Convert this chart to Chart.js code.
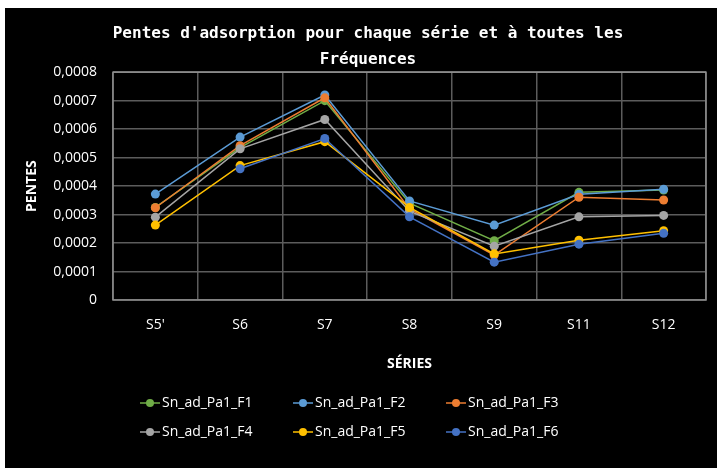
<!DOCTYPE html>
<html>
<head>
<meta charset="utf-8">
<script src="https://cdn.jsdelivr.net/npm/chart.js@4.4.1/dist/chart.umd.min.js"></script>
<style>
  body { margin: 0; background: #fff; }
  canvas { display: block; }
</style>
</head>
<body>
<canvas id="pentes" width="717" height="468"></canvas>
<script>
const series = ["S5'", 'S6', 'S7', 'S8', 'S9', 'S11', 'S12'];
const yTicks = [0, 0.0001, 0.0002, 0.0003, 0.0004, 0.0005, 0.0006, 0.0007, 0.0008];

const F1 = [0.000325, 0.000535, 0.000700, 0.000340, 0.000208, 0.000378, 0.000386];
const F2 = [0.000372, 0.000572, 0.000720, 0.000348, 0.000263, 0.000371, 0.000389];
const F3 = [0.000324, 0.000542, 0.000710, 0.000320, 0.000158, 0.000361, 0.000351];
const F4 = [0.000291, 0.000531, 0.000634, 0.000312, 0.000189, 0.000292, 0.000297];
const F5 = [0.000263, 0.000472, 0.000556, 0.000325, 0.000162, 0.000210, 0.000243];
const F6 = [null, 0.000461, 0.000567, 0.000292, 0.000133, 0.000196, 0.000234];

const names = ['Sn_ad_Pa1_F1', 'Sn_ad_Pa1_F2', 'Sn_ad_Pa1_F3', 'Sn_ad_Pa1_F4', 'Sn_ad_Pa1_F5', 'Sn_ad_Pa1_F6'];
const colors = ['#70AD47', '#5B9BD5', '#ED7D31', '#A5A5A5', '#FFC000', '#4472C4'];
const values = [F1, F2, F3, F4, F5, F6];

const fmt = v => v === 0 ? '0' : v.toFixed(4).replace('.', ',');

// black panel + plot frame
const frame = {
  id: 'frame',
  beforeDraw(chart) {
    const c = chart.ctx;
    c.save();
    c.fillStyle = '#fff';
    c.fillRect(0, 0, chart.width, chart.height);
    c.fillStyle = '#000';
    c.fillRect(5, 8, chart.width - 5, chart.height - 8);
    c.restore();
  },
  beforeDatasetsDraw(chart) {
    const a = chart.chartArea, c = chart.ctx;
    c.save();
    c.strokeStyle = '#8f8f8f';
    c.lineWidth = 1.5;
    c.strokeRect(a.left, a.top, a.right - a.left, a.bottom - a.top);
    c.restore();
  }
};

// legend: line with marker, 3 columns x 2 rows
const lineLegend = {
  id: 'lineLegend',
  afterDraw(chart) {
    const c = chart.ctx;
    c.save();
    c.font = '14px "Open Sans"';
    c.textBaseline = 'middle';
    chart.data.datasets.forEach((ds, i) => {
      const x = 140 + (i % 3) * 153;
      const y = 403 + Math.floor(i / 3) * 29;
      c.strokeStyle = ds.borderColor;
      c.lineWidth = 1.5;
      c.beginPath();
      c.moveTo(x, y);
      c.lineTo(x + 20, y);
      c.stroke();
      c.fillStyle = ds.borderColor;
      c.beginPath();
      c.arc(x + 10, y, 4, 0, Math.PI * 2);
      c.fill();
      c.fillStyle = '#fff';
      c.fillText(ds.label, x + 22, y);
    });
    c.restore();
  }
};

new Chart(document.getElementById('pentes'), {
  type: 'line',
  data: {
    labels: series,
    datasets: values.map((v, i) => ({
      label: names[i],
      data: v,
      borderColor: colors[i],
      backgroundColor: colors[i],
      borderWidth: 1.5,
      pointRadius: 4.5,
      pointBorderWidth: 0,
      tension: 0,
      order: 5 - i
    }))
  },
  options: {
    responsive: false,
    devicePixelRatio: 1,
    animation: false,
    layout: { padding: { top: 8, left: 30, right: 11, bottom: 0 } },
    plugins: {
      legend: { display: false },
      tooltip: { enabled: false },
      title: {
        display: true,
        text: ["Pentes d'adsorption pour chaque série et à toutes les", 'Fréquences'],
        color: '#fff',
        font: { family: '"DejaVu Sans Mono"', size: 16, weight: 'bold', lineHeight: 1.6 },
        padding: { top: 13, bottom: 0 }
      }
    },
    scales: {
      x: {
        offset: true,
        grid: { color: '#5c5c5c', lineWidth: 1.5, offset: true, drawTicks: false },
        border: { display: false },
        ticks: { color: '#fff', font: { family: '"Open Sans"', size: 14 }, padding: 17 },
        title: {
          display: true, text: 'SÉRIES', color: '#fff',
          font: { family: '"Open Sans"', size: 14, weight: 'bold' },
          padding: { top: 0, bottom: 96 }
        },
        afterFit(s) { s.height = 168; }
      },
      y: {
        min: 0,
        max: 0.0008,
        afterBuildTicks(s) { s.ticks = yTicks.map(v => ({ value: v })); },
        grid: { color: '#5c5c5c', lineWidth: 1.5, drawTicks: false },
        border: { display: false },
        ticks: { color: '#fff', font: { family: '"Open Sans"', size: 14 }, padding: 16, callback: fmt },
        title: {
          display: true, text: 'PENTES', color: '#fff',
          font: { family: '"Open Sans"', size: 14, weight: 'bold' },
          padding: { top: -6, bottom: 0 }
        },
        afterFit(s) { s.width = 83; }
      }
    }
  },
  plugins: [frame, lineLegend]
});
</script>
</body>
</html>
